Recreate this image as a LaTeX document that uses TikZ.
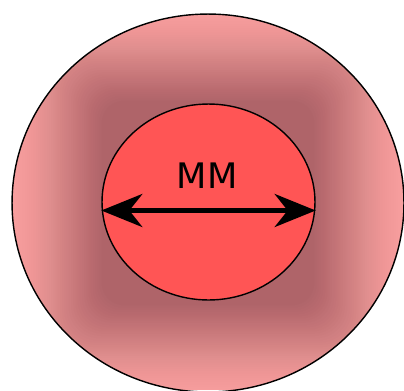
\documentclass[tikz,border=0pt]{standalone}
\usepackage{fontspec}
\setsansfont{DejaVu Sans}
\usetikzlibrary{arrows.meta,positioning,shapes.geometric}

\definecolor{pinklight}{RGB}{247,158,158}
\definecolor{shadow}{RGB}{120,65,70}
\definecolor{corered}{RGB}{255,85,85}

\begin{document}
\begin{tikzpicture}[x=0.02cm, y=0.02cm, font=\sffamily, outerball/.style={ellipse, draw=black, thick, inner sep=0pt, minimum width=7.84cm, minimum height=7.56cm}, innerball/.style={ellipse, draw=black, thick, fill=corered, inner sep=0pt, minimum width=4.26cm, minimum height=3.92cm}, sizearrow/.style={{Stealth[length=0.82cm,width=0.66cm,inset=0.26cm]}-{Stealth[length=0.82cm,width=0.66cm,inset=0.26cm]}, line width=2.8pt}]
\useasboundingbox (0,0) rectangle (404,390);
\clip (0,0) rectangle (404,390);
\begin{scope}
\clip (208,187) ellipse (196 and 189);
\fill[pinklight] (0,0) rectangle (404,390);
% soft dark halo round the core
\foreach \i [evaluate=\i as \op using 0.006+0.0005*\i] in {0,...,39} {
  \fill[shadow, opacity=\op, rounded corners=0.9cm-0.012cm*\i] (208-192+2.2*\i,187-188+2.2*\i) rectangle (208+192-2.2*\i,187+188-2.2*\i);
}
\end{scope}
\node[outerball] (outer) at (208,187) {};
\node[innerball] (core) at (208.5,188) {};
\draw[sizearrow] ([yshift=-0.17cm]core.west) -- ([yshift=-0.17cm]core.east);
\node[font=\sffamily\fontsize{20}{24}\selectfont] (mm) at (207,214) {MM};
\end{tikzpicture}
\end{document}
